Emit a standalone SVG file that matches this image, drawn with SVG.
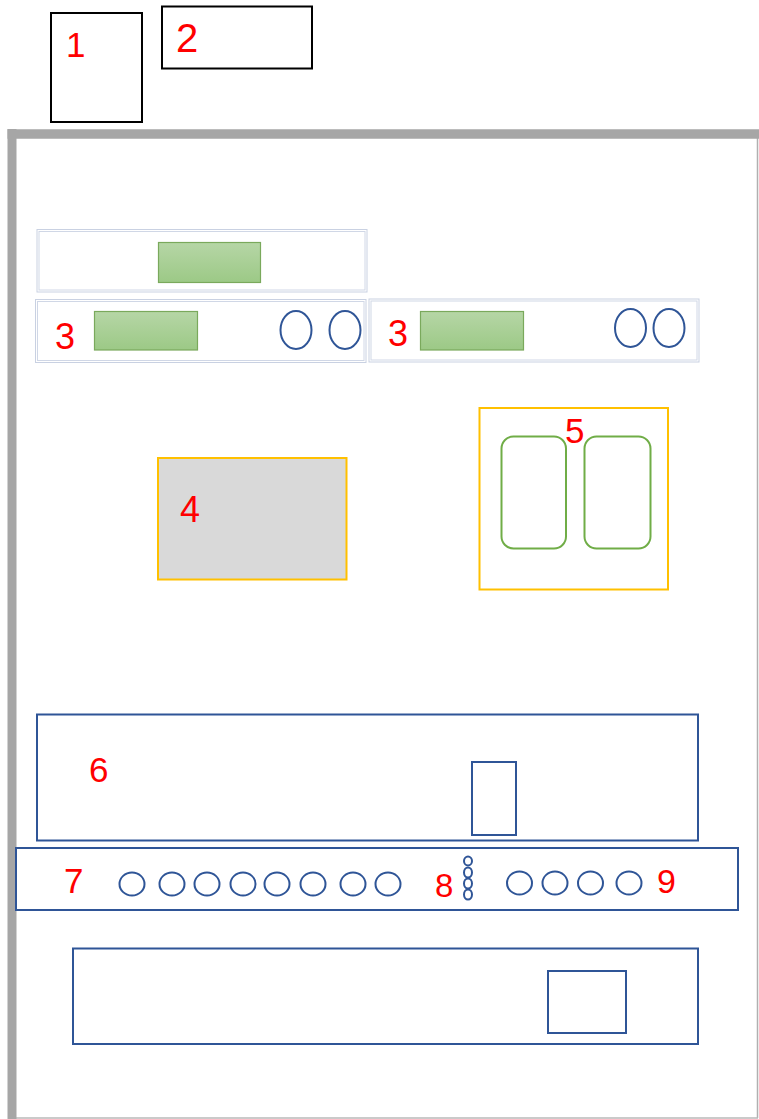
<svg xmlns="http://www.w3.org/2000/svg" width="759" height="1119" viewBox="0 0 759 1119">
<style>
.lbl{font-family:"Liberation Sans",Arial,sans-serif;fill:#ff0000}
.blk{fill:#fff;stroke:#000;stroke-width:2}
.pnl{fill:#fff;stroke:#c9d1e2;stroke-width:1}
.pin{fill:none;stroke:#d0d7e6;stroke-width:1}
.grn{fill:url(#g);stroke:#7aa95c;stroke-width:1.2}
.ov{fill:#fff;stroke:#2f5597;stroke-width:2}
.bl{fill:#fff;stroke:#2f5597;stroke-width:2}
.org{stroke:#ffc000;stroke-width:2}
.rr{fill:#fff;stroke:#70ad47;stroke-width:2}
</style>
<defs>
<linearGradient id="g" x1="0" y1="0" x2="0" y2="1">
<stop offset="0" stop-color="#b6d6a6"/>
<stop offset="1" stop-color="#9cc986"/>
</linearGradient>
</defs>
<rect width="759" height="1119" fill="#fff"/>
<g id="frame">
<rect x="12" y="134" width="745.5" height="983.5" fill="#fff" stroke="none"/>
<line x1="757.5" y1="134" x2="757.5" y2="1118" stroke="#b0b0b0" stroke-width="1.5"/>
<line x1="12" y1="1118" x2="758" y2="1118" stroke="#b8b8b8" stroke-width="1.5"/>
<line x1="12" y1="129" x2="12" y2="1119" stroke="#a6a6a6" stroke-width="9"/>
<line x1="7.5" y1="134" x2="759" y2="134" stroke="#a6a6a6" stroke-width="9.5"/>
</g>
<g id="node1">
<rect class="blk" x="51" y="13" width="91" height="109"/>
<text class="lbl" x="66" y="57" font-size="35">1</text>
</g>
<g id="node2">
<rect class="blk" x="162" y="6.5" width="150" height="62"/>
<text class="lbl" x="176" y="52" font-size="40">2</text>
</g>
<g id="node-top">
<rect class="pnl" x="37" y="229.5" width="330" height="62.5"/>
<rect class="pin" x="39" y="231.5" width="326" height="58.5"/>
<rect class="grn" x="158.5" y="242.5" width="102" height="40"/>
</g>
<g id="node3a">
<rect class="pnl" x="35.5" y="299.5" width="330.5" height="63"/>
<rect class="pin" x="37.5" y="301.5" width="326.5" height="59"/>
<rect class="grn" x="94.5" y="311.5" width="103" height="38.5"/>
<ellipse class="ov" cx="296" cy="330" rx="15.5" ry="19"/>
<ellipse class="ov" cx="345" cy="330" rx="15.5" ry="19"/>
<text class="lbl" x="55" y="349" font-size="36">3</text>
</g>
<g id="node3b">
<rect class="pnl" x="369" y="299" width="330" height="63"/>
<rect class="pin" x="371" y="301" width="326" height="59"/>
<rect class="grn" x="420.5" y="311.5" width="103" height="38.5"/>
<ellipse class="ov" cx="630.5" cy="328" rx="15.5" ry="19"/>
<ellipse class="ov" cx="669" cy="328" rx="15.5" ry="19"/>
<text class="lbl" x="388" y="346" font-size="36">3</text>
</g>
<g id="node4">
<rect class="org" fill="#d9d9d9" x="158" y="458" width="188.5" height="121.5"/>
<text class="lbl" x="180" y="522" font-size="36">4</text>
</g>
<g id="node5">
<rect class="org" fill="#fff" x="479.5" y="408" width="188.5" height="181.5"/>
<rect class="rr" x="501.5" y="436.5" width="64.5" height="112" rx="12" ry="12"/>
<rect class="rr" x="584.5" y="436.5" width="66" height="112" rx="12" ry="12"/>
<text class="lbl" x="565" y="443" font-size="35">5</text>
</g>
<g id="node6">
<rect class="bl" x="37" y="714.5" width="661" height="126"/>
<rect class="bl" x="472" y="762" width="44" height="73"/>
<text class="lbl" x="89" y="782" font-size="35">6</text>
</g>
<g id="node7">
<rect class="bl" x="16" y="848" width="722" height="62"/>
<ellipse class="ov" cx="132" cy="884" rx="12.5" ry="11.5"/>
<ellipse class="ov" cx="172" cy="884" rx="12.5" ry="11.5"/>
<ellipse class="ov" cx="207" cy="884" rx="12.5" ry="11.5"/>
<ellipse class="ov" cx="243" cy="884" rx="12.5" ry="11.5"/>
<ellipse class="ov" cx="277" cy="884" rx="12.5" ry="11.5"/>
<ellipse class="ov" cx="313" cy="884" rx="12.5" ry="11.5"/>
<ellipse class="ov" cx="353" cy="884" rx="12.5" ry="11.5"/>
<ellipse class="ov" cx="388" cy="884" rx="12.5" ry="11.5"/>
<text class="lbl" x="64" y="893" font-size="35">7</text>
</g>
<g id="node8">
<ellipse class="ov" cx="468" cy="861" rx="4" ry="4.5" stroke-width="1.5"/>
<ellipse class="ov" cx="468" cy="872.5" rx="4" ry="5" stroke-width="1.5"/>
<ellipse class="ov" cx="468" cy="883.5" rx="4" ry="5" stroke-width="1.5"/>
<ellipse class="ov" cx="468" cy="894.5" rx="4" ry="5" stroke-width="1.5"/>
<text class="lbl" x="435" y="897" font-size="33">8</text>
</g>
<g id="node9">
<ellipse class="ov" cx="519.5" cy="883" rx="12.5" ry="11.5"/>
<ellipse class="ov" cx="555" cy="883" rx="12.5" ry="11.5"/>
<ellipse class="ov" cx="590.5" cy="883" rx="12.5" ry="11.5"/>
<ellipse class="ov" cx="629" cy="883" rx="12.5" ry="11.5"/>
<text class="lbl" x="657" y="893" font-size="34">9</text>
</g>
<g id="node10">
<rect class="bl" x="73" y="948.5" width="625" height="95.5"/>
<rect class="bl" x="548" y="971" width="78" height="62"/>
</g>
<g id="connectors"></g>
</svg>
